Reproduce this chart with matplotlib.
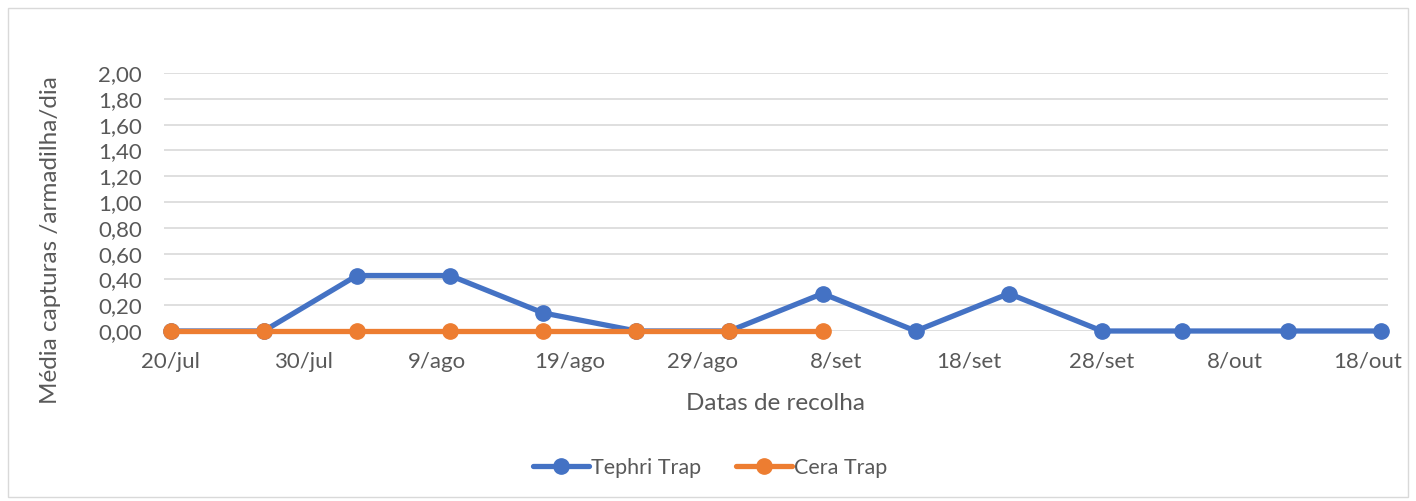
import numpy as np
import pandas as pd
import matplotlib
matplotlib.use("Agg")
import matplotlib.pyplot as plt
import matplotlib.dates as mdates
from matplotlib.patches import Rectangle

# datas de recolha
tephri_dates = ["2019-07-20", "2019-07-27", "2019-08-03", "2019-08-10", "2019-08-17",
                "2019-08-24", "2019-08-31", "2019-09-07", "2019-09-14", "2019-09-21",
                "2019-09-28", "2019-10-04", "2019-10-12", "2019-10-19"]
tephri_vals = [0.0, 0.0, 0.43, 0.43, 0.14, 0.0, 0.0, 0.29, 0.0, 0.29, 0.0, 0.0, 0.0, 0.0]

cera_dates = tephri_dates[:8]
cera_vals = [0.0, 0.0, 0.0, 0.0, 0.0, 0.0, 0.0, 0.0]

tick_dates = ["2019-07-20", "2019-07-30", "2019-08-09", "2019-08-19", "2019-08-29",
              "2019-09-08", "2019-09-18", "2019-09-28", "2019-10-08", "2019-10-18"]
month_pt = {7: "jul", 8: "ago", 9: "set", 10: "out"}

text_col = "#595959"
plt.rcParams["font.family"] = ["Lato", "DejaVu Sans"]

W, H = 1416, 501
fig = plt.figure(figsize=(W / 100, H / 100), dpi=100)
ax = fig.add_axes([164 / W, 1 - 331 / H, (1388 - 164) / W, (331 - 73) / H])

td = pd.to_datetime(tephri_dates)
cd = pd.to_datetime(cera_dates)
ax.plot(td, tephri_vals, color="#4472C4", lw=3.8, marker="o", ms=11, label="Tephri Trap",
        solid_capstyle="round", zorder=3, clip_on=False)
ax.plot(cd, cera_vals, color="#ED7D31", lw=3.8, marker="o", ms=11, label="Cera Trap",
        solid_capstyle="round", zorder=4, clip_on=False)

ticks = pd.to_datetime(tick_dates)
ax.set_xticks(ticks)
ax.set_xticklabels([f"{d.day}/{month_pt[d.month]}" for d in ticks])
ax.set_xlim(mdates.date2num(ticks[0]) - 0.5, mdates.date2num(pd.Timestamp("2019-10-19")) + 0.5)

ax.set_ylim(0, 2.0)
yt = np.arange(0, 2.01, 0.2)
ax.set_yticks(yt)
ax.set_yticklabels([f"{v:.2f}".replace(".", ",") for v in yt])
ax.yaxis.grid(True, color="#D9D9D9", lw=1.2)
ax.set_axisbelow(True)
for s in ax.spines.values():
    s.set_visible(False)
ax.tick_params(length=0, labelsize=16, colors=text_col)
ax.tick_params(axis="x", pad=15)
ax.tick_params(axis="y", pad=16)

fig.text(775 / W, 1 - 403 / H, "Datas de recolha", fontsize=17.5, color=text_col,
         ha="center", va="center")
fig.text(51 / W, 1 - 240 / H, "Média capturas /armadilha/dia", fontsize=17.5, color=text_col,
         ha="center", va="center", rotation=90)

fig.legend(loc="center", bbox_to_anchor=(710 / W, 1 - 468 / H), ncol=2, frameon=False,
           fontsize=15.5, labelcolor=text_col, handlelength=2.6, columnspacing=1.6,
           handletextpad=0.1)

fig.patches.append(Rectangle((8 / W, 4 / H), 1400 / W, 489 / H, transform=fig.transFigure,
                             fill=False, edgecolor="#D9D9D9", lw=1))

fig.savefig("out.png", dpi=100)
